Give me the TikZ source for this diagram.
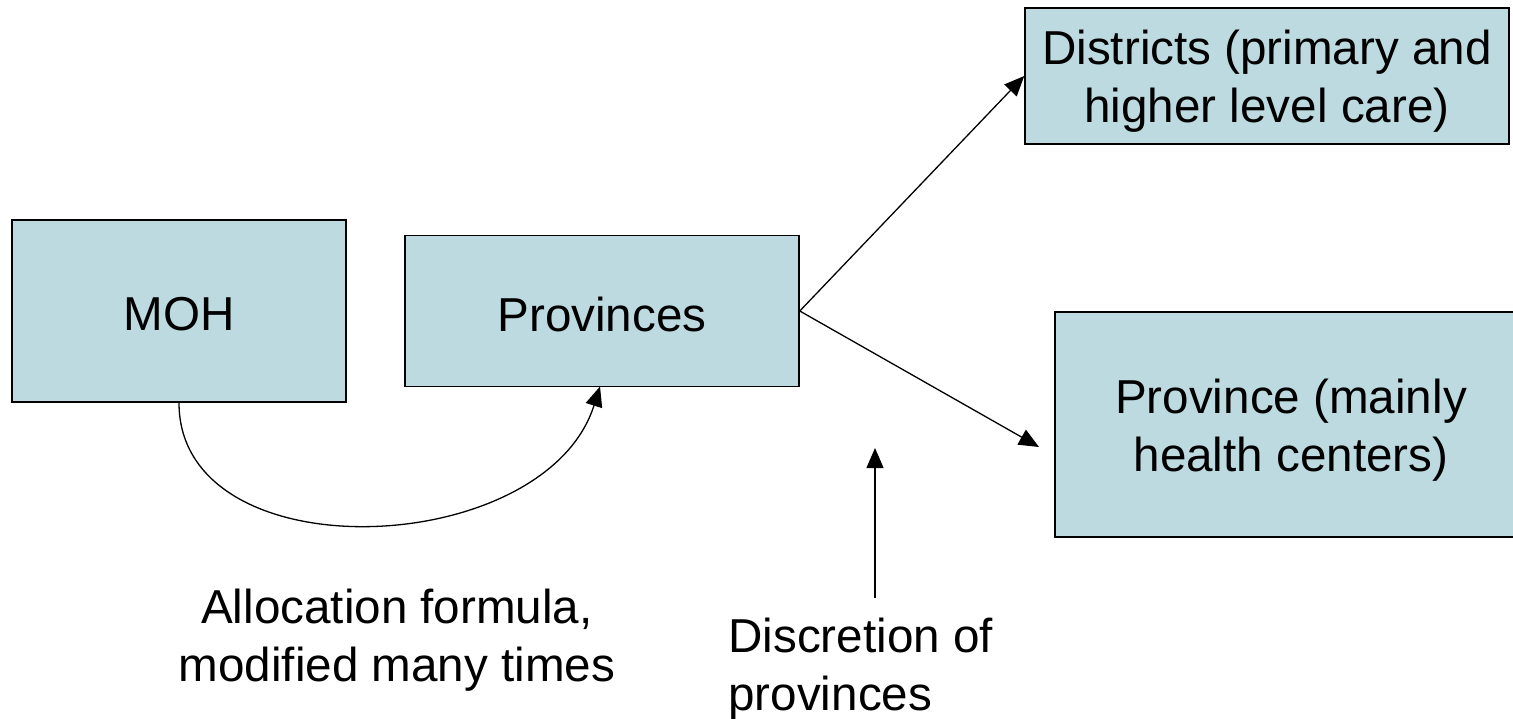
\documentclass[tikz,border=0pt]{standalone}
\usepackage{fontspec}
\setmainfont{Liberation Sans}
\usepackage{tikz}
\usetikzlibrary{arrows.meta}
\definecolor{boxfill}{RGB}{189,218,224}

\begin{document}
\begin{tikzpicture}[x=0.5pt,y=-0.5pt,
      every node/.style={font=\fontsize{23.8}{29}\selectfont},
      box/.style={draw,line width=0.75pt,fill=boxfill,align=center,inner sep=0pt},
      note/.style={align=center,inner sep=0pt},
      flow/.style={line width=0.65pt,-{Triangle[length=10pt,width=8.5pt]}}]
      \useasboundingbox (0,0) rectangle (1513,718);
      \node[box,minimum width=167pt,minimum height=91pt] (moh) at (179,311)
        {\raisebox{-1.5pt}[\height][\depth]{MOH}};
      \node[box,minimum width=197pt,minimum height=75.5pt] (prov) at (602,311)
        {\raisebox{-1.5pt}[\height][\depth]{Provinces}};
      \node[box,minimum width=242pt,minimum height=68pt] (dist) at (1267,76)
        {\raisebox{-3pt}[\height][\depth]{\begin{tabular}{@{}c@{}}Districts (primary and\\ higher level care)\end{tabular}}};
      \node[box,minimum width=236pt,minimum height=112.5pt] (pcent) at (1291,424.5)
        {\raisebox{-3pt}[\height][\depth]{\begin{tabular}{@{}c@{}}Province (mainly\\ health centers)\end{tabular}}};
      \node[note] (alloc) at (397,640) {Allocation formula,\\modified many times};
      \node[note,align=left,anchor=west] (discr) at (728,669) {Discretion of\\provinces};
      \coordinate (pctip) at (1039,447);
      \coordinate (discrtail) at (875,598);
      \coordinate (discrtip) at (875,448);
      % arrows
      \draw[flow] (prov.east) -- (dist.west);
      \draw[flow] (prov.east) -- (pctip);
      \draw[flow] (moh.south) .. controls (179,575) and (545,560) .. (600,386.5);
      \draw[flow] (discrtail) -- (discrtip);
\end{tikzpicture}
\end{document}
